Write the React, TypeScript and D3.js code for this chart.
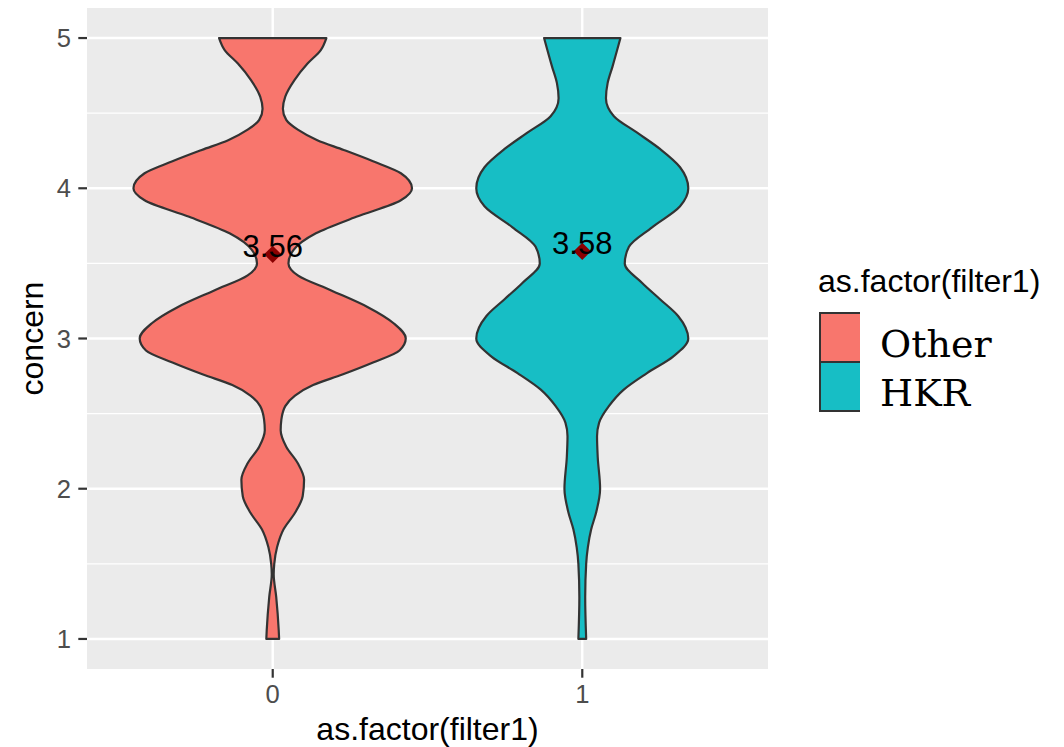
import React from "react";
import * as d3 from "d3";

// categories / legend
const categories = ["0", "1"];
const groupLabels = ["Other", "HKR"];
const groupColors = ["#F8766D", "#17BEC5"];
const meanValues = [3.56, 3.58];
const yTicks = [1, 2, 3, 4, 5];
const yMinor = [1.5, 2.5, 3.5, 4.5];

// violin outlines: concern level -> relative width (1 = widest)
const otherLevels = [
  5.0, 4.92, 4.83, 4.72, 4.61, 4.53, 4.455, 4.39, 4.32, 4.255, 4.18, 4.1, 4.0,
  3.92, 3.81, 3.7, 3.59, 3.5, 3.42, 3.32, 3.21, 3.1, 3.0, 2.92, 2.84, 2.76, 2.69,
  2.62, 2.55, 2.46, 2.39, 2.28, 2.17, 2.06, 1.95, 1.84, 1.73, 1.61, 1.5, 1.43,
  1.28, 1.06, 1.0,
];
const otherWidths = [
  0.385, 0.345, 0.25, 0.156, 0.09, 0.073, 0.097, 0.18, 0.32, 0.51, 0.72, 0.92,
  1.0, 0.92, 0.6, 0.31, 0.15, 0.113, 0.18, 0.42, 0.68, 0.87, 0.955, 0.91, 0.72,
  0.5, 0.29, 0.16, 0.09, 0.062, 0.057, 0.097, 0.18, 0.225, 0.215, 0.16, 0.078,
  0.031, 0.011, 0.007, 0.025, 0.043, 0.046,
];
const hkrLevels = [
  5.0, 4.81, 4.7, 4.6, 4.48, 4.37, 4.26, 4.14, 4.0, 3.88, 3.74, 3.61, 3.5, 3.37,
  3.26, 3.15, 3.0, 2.88, 2.77, 2.66, 2.55, 2.44, 2.35, 2.21, 2.0, 1.84, 1.73,
  1.61, 1.5, 1.28, 1.0,
];
const hkrWidths = [
  0.274, 0.217, 0.182, 0.17, 0.227, 0.394, 0.56, 0.702, 0.761, 0.702, 0.501,
  0.335, 0.305, 0.43, 0.56, 0.688, 0.761, 0.652, 0.465, 0.298, 0.191, 0.121,
  0.106, 0.111, 0.128, 0.099, 0.064, 0.04, 0.028, 0.021, 0.028,
];

const W = 1064;
const H = 747;
const panel = { left: 87, right: 768, top: 8, bottom: 669 };
const sans = "'Liberation Sans', Arial, Helvetica, sans-serif";

export default function App() {
  const x = d3
    .scalePoint<string>()
    .domain(categories)
    .range([panel.left, panel.right])
    .padding(0.6);
  const y = d3.scaleLinear().domain([0.8, 5.2]).range([panel.bottom, panel.top]);
  const halfMax = 0.45 * x.step();

  const violins = [
    { levels: otherLevels, widths: otherWidths },
    { levels: hkrLevels, widths: hkrWidths },
  ];

  // right edge down, left edge back up, flat top and bottom
  const paths = violins.map((v, i) => {
    const cx = x(categories[i])!;
    const pts: [number, number][] = v.levels.map((l, j) => [l, v.widths[j]]);
    const right = d3
      .line<[number, number]>()
      .x((d) => cx + d[1] * halfMax)
      .y((d) => y(d[0]))
      .curve(d3.curveMonotoneY);
    const left = d3
      .line<[number, number]>()
      .x((d) => cx - d[1] * halfMax)
      .y((d) => y(d[0]))
      .curve(d3.curveMonotoneY);
    const leftUp = left(pts.slice().reverse()) || "";
    return (right(pts) || "") + "L" + leftUp.slice(1) + "Z";
  });

  const diamond = d3.symbol(d3.symbolSquare, 150)() || "";

  const keyX = 820;
  const keyW = 40;
  const keyTops = [313, 362];
  const keyH = 49;

  return (
    <div style={{ position: "absolute", left: 0, top: 0 }}>
      <svg width={W} height={H} style={{ display: "block", background: "#fff" }}>
        <rect
          x={panel.left}
          y={panel.top}
          width={panel.right - panel.left}
          height={panel.bottom - panel.top}
          fill="#EBEBEB"
        />
        {yMinor.map((t) => (
          <line
            key={"mi" + t}
            x1={panel.left}
            x2={panel.right}
            y1={y(t)}
            y2={y(t)}
            stroke="#fff"
            strokeWidth={1.2}
          />
        ))}
        {yTicks.map((t) => (
          <line
            key={"ma" + t}
            x1={panel.left}
            x2={panel.right}
            y1={y(t)}
            y2={y(t)}
            stroke="#fff"
            strokeWidth={2.4}
          />
        ))}
        {categories.map((c) => (
          <line
            key={"vx" + c}
            x1={x(c)}
            x2={x(c)}
            y1={panel.top}
            y2={panel.bottom}
            stroke="#fff"
            strokeWidth={2.4}
          />
        ))}

        {paths.map((p, i) => (
          <path
            key={"v" + i}
            d={p}
            fill={groupColors[i]}
            stroke="#333333"
            strokeWidth={2.2}
            strokeLinejoin="round"
          />
        ))}

        {meanValues.map((m, i) => (
          <g key={"m" + i}>
            <path
              d={diamond}
              transform={`translate(${x(categories[i])},${y(m)}) rotate(45)`}
              fill="#8B0000"
            />
            <text
              x={x(categories[i])}
              y={y(m) + 3}
              textAnchor="middle"
              fontFamily={sans}
              fontSize={31}
              fill="#000"
            >
              {m.toFixed(2)}
            </text>
          </g>
        ))}

        {/* y axis */}
        {yTicks.map((t) => (
          <g key={"yt" + t}>
            <line
              x1={panel.left - 8.7}
              x2={panel.left}
              y1={y(t)}
              y2={y(t)}
              stroke="#333333"
              strokeWidth={2.2}
            />
            <text
              x={71}
              y={y(t)}
              dy="0.36em"
              textAnchor="end"
              fontFamily={sans}
              fontSize={25.6}
              fill="#4D4D4D"
            >
              {t}
            </text>
          </g>
        ))}
        {/* x axis */}
        {categories.map((c) => (
          <g key={"xt" + c}>
            <line
              x1={x(c)}
              x2={x(c)}
              y1={panel.bottom}
              y2={panel.bottom + 8.7}
              stroke="#333333"
              strokeWidth={2.2}
            />
            <text
              x={x(c)}
              y={703}
              textAnchor="middle"
              fontFamily={sans}
              fontSize={25.6}
              fill="#4D4D4D"
            >
              {c}
            </text>
          </g>
        ))}

        <text
          x={(panel.left + panel.right) / 2}
          y={740}
          textAnchor="middle"
          fontFamily={sans}
          fontSize={32}
          fill="#000"
        >
          as.factor(filter1)
        </text>
        <text
          transform={`translate(43,${(panel.top + panel.bottom) / 2}) rotate(-90)`}
          textAnchor="middle"
          fontFamily={sans}
          fontSize={32}
          fill="#000"
        >
          concern
        </text>

        {/* legend */}
        <text x={818} y={292} fontFamily={sans} fontSize={32} fill="#000">
          as.factor(filter1)
        </text>
        {groupLabels.map((g, i) => (
          <g key={"lg" + i}>
            <rect
              x={keyX}
              y={keyTops[i]}
              width={keyW}
              height={keyH}
              fill={groupColors[i]}
            />
            <path
              d={`M${keyX + keyW},${keyTops[i]} H${keyX} V${keyTops[i] + keyH} H${keyX + keyW}`}
              fill="none"
              stroke="#333333"
              strokeWidth={2}
            />
            <text
              x={880}
              y={keyTops[i] + 44}
              fontFamily="'DejaVu Serif', serif"
              fontSize={38}
              fill="#000"
            >
              {g}
            </text>
          </g>
        ))}
      </svg>
    </div>
  );
}
